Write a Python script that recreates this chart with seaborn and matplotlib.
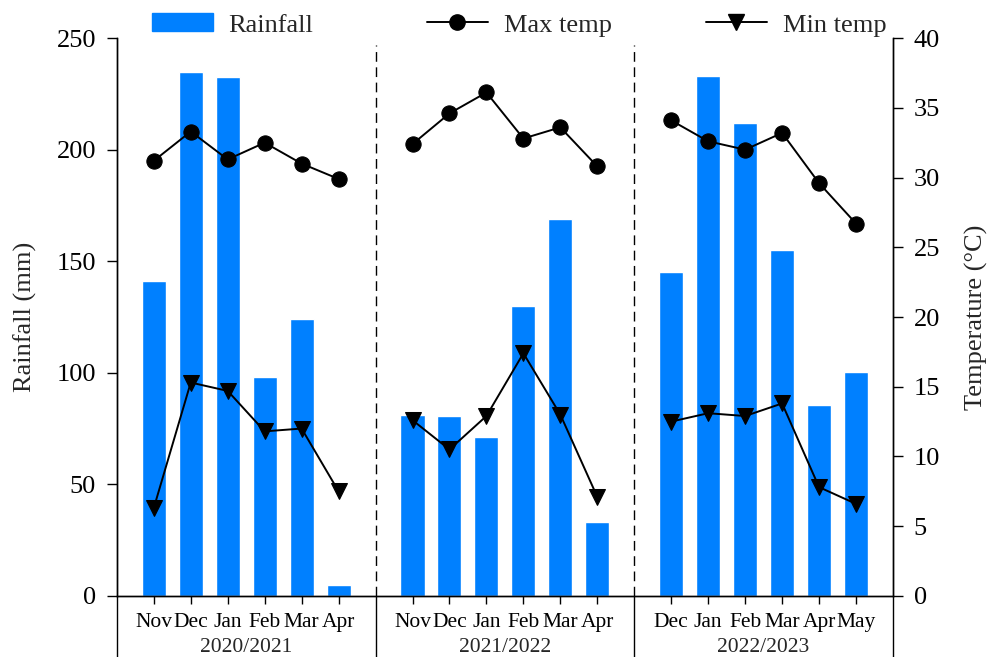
import numpy as np
import pandas as pd
import seaborn as sns
import matplotlib.pyplot as plt
import matplotlib.transforms as mtransforms
from matplotlib.lines import Line2D
from matplotlib.patches import Patch

# 数据：三个生长季的月份、降雨量与温度
seasons = ['2020/2021', '2021/2022', '2022/2023']
months = [
    ['Nov', 'Dec', 'Jan', 'Feb', 'Mar', 'Apr'],
    ['Nov', 'Dec', 'Jan', 'Feb', 'Mar', 'Apr'],
    ['Dec', 'Jan', 'Feb', 'Mar', 'Apr', 'May'],
]
rainfall = [
    [141, 235, 232.5, 98, 124, 5],
    [81, 80.5, 71, 130, 169, 33],
    [145, 233, 212, 155, 85.5, 100.5],
]
max_temp = [
    [31.2, 33.3, 31.3, 32.5, 31.0, 29.9],
    [32.4, 34.6, 36.1, 32.8, 33.6, 30.8],
    [34.1, 32.6, 32.0, 33.2, 29.6, 26.7],
]
min_temp = [
    [6.3, 15.3, 14.7, 11.8, 12.0, 7.5],
    [12.6, 10.5, 12.9, 17.4, 13.0, 7.1],
    [12.5, 13.1, 12.9, 13.8, 7.8, 6.6],
]

rows = []
for i, s in enumerate(seasons):
    for j, m in enumerate(months[i]):
        rows.append(dict(season=s, month=m, pos=i * 7 + j,
                         rain=rainfall[i][j], tmax=max_temp[i][j], tmin=min_temp[i][j]))
df = pd.DataFrame(rows)

sns.set_theme(style='ticks')
plt.rcParams['font.family'] = ['Liberation Serif', 'DejaVu Serif']
plt.rcParams['font.size'] = 19

bar_color = '#0080ff'
fig = plt.figure(figsize=(9.9, 6.57), dpi=100)
ax = fig.add_axes([0.118, 0.093, 0.784, 0.849])

sns.barplot(data=df, x='pos', y='rain', native_scale=True, width=0.65,
            color=bar_color, saturation=1, errorbar=None, ax=ax)

ax2 = ax.twinx()
for s in seasons:
    sub = df[df.season == s]
    sns.lineplot(data=sub, x='pos', y='tmax', marker='o', markersize=11,
                 color='black', mec='black', lw=1.4, ax=ax2)
    sns.lineplot(data=sub, x='pos', y='tmin', marker='v', markersize=12,
                 color='black', mec='black', lw=1.4, ax=ax2)

ax.set_xlim(-1, 20)
ax.set_ylim(0, 250)
ax2.set_ylim(0, 40)
ax.set_yticks(range(0, 251, 50))
ax2.set_yticks(range(0, 41, 5))
ax.set_xticks(df['pos'])
ax.set_xticklabels(df['month'])
ax.set_xlabel('')
ax.set_ylabel('Rainfall (mm)', fontsize=19, labelpad=14)
ax2.set_ylabel('Temperature (°C)', fontsize=19, labelpad=18)
for a in (ax, ax2):
    a.spines['top'].set_visible(False)
    a.tick_params(axis='y', direction='out', length=7, width=1, labelsize=19, pad=8,
                  color='black', labelcolor='black')
    for sp in a.spines.values():
        sp.set_color('black')
        sp.set_linewidth(1)
ax.tick_params(axis='x', direction='out', length=6, width=1, labelsize=15.5, pad=6,
               color='black', labelcolor='black')

# 季节分隔线
for x in (6, 13):
    ax.axvline(x, ymax=0.987, color='black', lw=1, ls=(0, (7, 4)))
trans = mtransforms.blended_transform_factory(ax.transData, ax.transAxes)
for x in (-1, 6, 13, 20):
    ax.plot([x, x], [0, -0.12], transform=trans, clip_on=False, color='black', lw=1)
for i, s in enumerate(seasons):
    ax.text(i * 7 + 2.5, -0.093, s, transform=trans, ha='center', va='center', fontsize=15.5)

# 图例
leg_kw = dict(loc='center left', frameon=False, borderpad=0, borderaxespad=0,
              handlelength=2.3, handletextpad=0.6, fontsize=19)
fig.legend(handles=[Patch(color=bar_color)], labels=['Rainfall'],
           bbox_to_anchor=(152 / 990, 1 - 25 / 657), handleheight=0.65, **leg_kw)
fig.legend(handles=[Line2D([], [], color='black', marker='o', markersize=11, lw=1.4)],
           labels=['Max temp'], bbox_to_anchor=(427 / 990, 1 - 25 / 657), **leg_kw)
fig.legend(handles=[Line2D([], [], color='black', marker='v', markersize=12, lw=1.4)],
           labels=['Min temp'], bbox_to_anchor=(706 / 990, 1 - 25 / 657), **leg_kw)

fig.savefig('out.png', dpi=100)
